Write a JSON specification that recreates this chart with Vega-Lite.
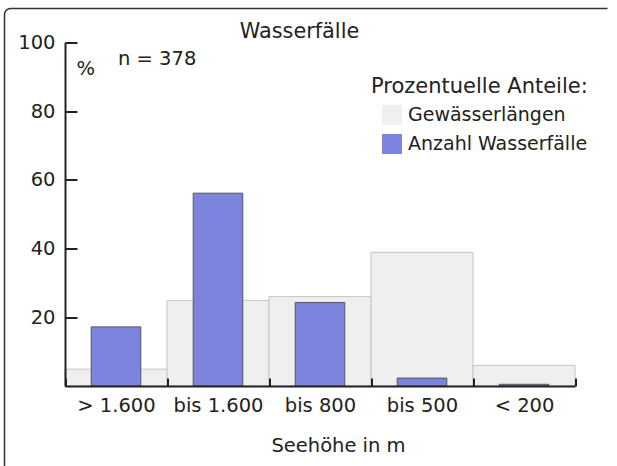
{
  "$schema": "https://vega.github.io/schema/vega-lite/v6.json",
  "autosize": {"type": "none"},
  "padding": {"left": 4.5, "top": 8.5, "right": -12.5, "bottom": -12.5},
  "width": 625,
  "height": 470,
  "background": "white",
  "title": {"text": "Wasserfälle", "anchor": "middle", "dx": -17.5, "offset": -50.5, "baseline": "alphabetic", "fontSize": 20.8, "fontWeight": "normal", "color": "#222", "font": "DejaVu Sans"},
  "data": {"values": [
    {"hoehe": "> 1.600", "serie": "Gewässerlängen", "wert": 4.9},
    {"hoehe": "bis 1.600", "serie": "Gewässerlängen", "wert": 24.9},
    {"hoehe": "bis 800", "serie": "Gewässerlängen", "wert": 26.0},
    {"hoehe": "bis 500", "serie": "Gewässerlängen", "wert": 38.9},
    {"hoehe": "< 200", "serie": "Gewässerlängen", "wert": 6.0},
    {"hoehe": "> 1.600", "serie": "Anzahl Wasserfälle", "wert": 17.2},
    {"hoehe": "bis 1.600", "serie": "Anzahl Wasserfälle", "wert": 56.1},
    {"hoehe": "bis 800", "serie": "Anzahl Wasserfälle", "wert": 24.3},
    {"hoehe": "bis 500", "serie": "Anzahl Wasserfälle", "wert": 2.3},
    {"hoehe": "< 200", "serie": "Anzahl Wasserfälle", "wert": 0.5}
  ]},
  "layer": [
    {
      "transform": [{"filter": "datum.serie === 'Gewässerlängen'"}],
      "mark": {"type": "bar", "width": {"band": 1}, "stroke": "#c4c4c4", "strokeWidth": 1},
      "encoding": {
        "x": {
          "field": "hoehe", "type": "nominal",
          "scale": {"domain": ["> 1.600", "bis 1.600", "bis 800", "bis 500", "< 200"], "range": [60.5, 570.5], "paddingInner": 0, "paddingOuter": 0},
          "axis": {
            "orient": "bottom", "offset": -92.5, "zindex": 1,
            "tickBand": "extent", "tickSize": -8, "tickWidth": 2, "tickColor": "#222",
            "domainWidth": 2, "domainColor": "#222",
            "labelAngle": 0, "labelPadding": 18, "labelFontSize": 19.5, "labelColor": "#222", "labelFont": "DejaVu Sans",
            "title": "Seehöhe in m", "titleX": 333.5, "titleY": 65, "titleAlign": "center", "titleBaseline": "alphabetic",
            "titleFontSize": 19.5, "titleFontWeight": "normal", "titleColor": "#222", "titleFont": "DejaVu Sans",
            "grid": false
          }
        },
        "y": {
          "field": "wert", "type": "quantitative",
          "scale": {"domain": [0, 100], "range": [377.5, 33.8], "nice": false},
          "axis": {
            "values": [20, 40, 60, 80, 100], "offset": -60.5, "zindex": 1,
            "tickSize": -12, "tickWidth": 2, "tickColor": "#222",
            "domainWidth": 2, "domainColor": "#222",
            "labelPadding": 22, "labelFontSize": 19.5, "labelColor": "#222", "labelFont": "DejaVu Sans",
            "title": "%", "titleAngle": 0, "titleX": 11, "titleY": 65.5, "titleAlign": "left", "titleBaseline": "alphabetic",
            "titleFontSize": 19.5, "titleFontWeight": "normal", "titleColor": "#222", "titleFont": "DejaVu Sans",
            "grid": false
          }
        },
        "color": {
          "field": "serie", "type": "nominal",
          "scale": {"domain": ["Gewässerlängen", "Anzahl Wasserfälle"], "range": ["#efefef", "#7c84de"]},
          "legend": {
            "orient": "none", "legendX": 366.5, "legendY": 67.5,
            "title": "Prozentuelle Anteile:", "titleFontSize": 21, "titleFontWeight": "normal", "titleColor": "#222", "titleFont": "DejaVu Sans",
            "titlePadding": 8, "titleLimit": 400,
            "symbolType": "square", "symbolSize": 400, "symbolOffset": 11, "symbolStrokeWidth": 0,
            "labelFontSize": 19, "labelColor": "#222", "labelFont": "DejaVu Sans", "labelOffset": 6, "labelLimit": 400,
            "rowPadding": 9, "padding": 0,
            "encode": {"symbols": {"update": {"fill": {"signal": "datum.value === 'Gewässerlängen' ? '#dcdcdc' : '#7c84de'"}, "stroke": {"value": "transparent"}, "opacity": {"value": 1}}}}
          }
        }
      }
    },
    {
      "transform": [{"filter": "datum.serie === 'Anzahl Wasserfälle'"}],
      "mark": {"type": "bar", "width": {"band": 0.486}, "stroke": "#555", "strokeWidth": 1},
      "encoding": {
        "x": {"field": "hoehe", "type": "nominal"},
        "y": {"field": "wert", "type": "quantitative"},
        "color": {"field": "serie", "type": "nominal"}
      }
    },
    {
      "data": {"values": [{"label": "n = 378"}]},
      "mark": {"type": "text", "align": "left", "baseline": "alphabetic", "dx": 2, "fontSize": 19.5, "fill": "#222", "font": "DejaVu Sans"},
      "encoding": {
        "x": {"datum": "> 1.600", "type": "nominal"},
        "y": {"datum": 93.4, "type": "quantitative"},
        "text": {"field": "label", "type": "nominal"}
      }
    }
  ],
  "config": {
    "font": "DejaVu Sans",
    "view": {"stroke": "#333", "strokeWidth": 1.5, "cornerRadius": 6, "strokeDash": [597, 1085, 520, 0]}
  }
}
